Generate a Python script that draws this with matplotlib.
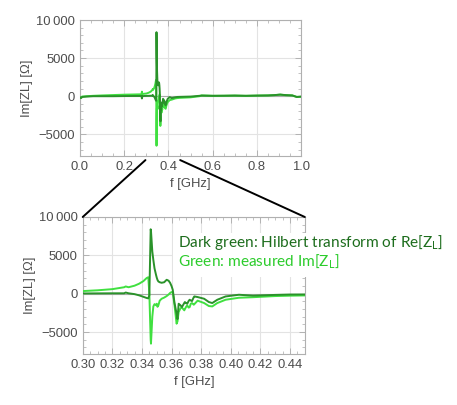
import matplotlib.pyplot as plt
from matplotlib.patches import ConnectionPatch, Rectangle
from matplotlib.ticker import MultipleLocator

# frequency points (GHz), shared by both curves
freq = [0.000, 0.005, 0.010, 0.030, 0.060, 0.100, 0.150, 0.200, 0.250, 0.278,
        0.280, 0.282, 0.290, 0.300, 0.310, 0.320, 0.328, 0.329, 0.331, 0.335,
        0.338, 0.341, 0.3432, 0.3443, 0.3450, 0.3459, 0.3461, 0.3470, 0.3477,
        0.3485, 0.3495, 0.3500, 0.3505, 0.3511, 0.3520, 0.3533, 0.3550, 0.3567,
        0.3580, 0.3590, 0.3600, 0.3608, 0.3620, 0.3634, 0.3640, 0.3648, 0.3660,
        0.3670, 0.3686, 0.3690, 0.3700, 0.3706, 0.3715, 0.3722, 0.3730, 0.3738,
        0.3750, 0.3754, 0.3776, 0.3820, 0.3852, 0.3875, 0.3909, 0.3965, 0.4055,
        0.4150, 0.4300, 0.4400, 0.4500, 0.5000, 0.5400, 0.5500, 0.6000, 0.6500,
        0.7000, 0.7500, 0.8000, 0.8500, 0.8800, 0.9050, 0.9300, 0.9600, 0.9800,
        1.0000]

# dark green: Hilbert transform of Re[ZL]
hilbert_im = [-150, -250, -100, -50, 0, 0, 0, 20, 30, 30,
              -300, 0, 30, 40, 50, 60, 60, 160, 60, -50,
              -200, -400, -550, -600, -200, 8400, 8200, 5500, 4400,
              3300, 2470, 2100, 1800, 1600, 1500, 1430, 1500, 1820,
              1700, 1430, 1000, 520, -1200, -2600, -3300, -1300, -1500,
              -1730, -1200, -1080, -1250, -1300, -950, -780, -880, -950,
              -450, -350, -430, -650, -1080, -1210, -780, -350, -130,
              -250, -150, -100, -90, -50, 50, 80, 50, 60,
              80, 50, 80, 100, 150, 200, 150, 100, -100,
              -50]

# green: measured Im[ZL]
measured_im = [-200, -150, -50, 0, 50, 100, 150, 200, 230, 250,
               600, 280, 320, 350, 450, 600, 850, 950, 850, 1050,
               1300, 1650, 2050, 2150, 0, -6000, -6500, -3000, -1650,
               -1350, -1500, -1300, -1700, -1500, -900, -650, -500, -300,
               -100, 100, 220, 200, -1500, -3900, -3600, -2380, -1900,
               -1800, -2160, -2000, -1650, -1520, -1800, -1750, -1300, -1210,
               -1430, -1350, -900, -1210, -1600, -1650, -1210, -780, -520,
               -450, -300, -250, -220, -150, 0, 100, 50, 60,
               80, 50, 80, 100, 130, 220, 120, 100, -100,
               -80]

x_zoom = (0.30, 0.45)
y_range = (-7850, 10000)
y_ticks = [-5000, 0, 5000, 10000]
y_tick_labels = ['\u22125000', '0', '5000', '10\u2009000']

dark_col = '#2a922a'
light_col = '#40e040'
grey = '#4d4d4d'

plt.rcParams['font.family'] = ['Liberation Sans', 'DejaVu Sans']

fig = plt.figure(figsize=(4.57, 4.05), dpi=100)
ax1 = fig.add_axes([0.175, 0.6148, 0.484, 0.3358])
ax2 = fig.add_axes([0.181, 0.1259, 0.486, 0.3383])


def style(ax, xmaj, xmin, xfmt):
  ax.plot(freq, measured_im, color=light_col, lw=1.4, zorder=3)
  ax.plot(freq, hilbert_im, color=dark_col, lw=1.4, zorder=3)
  ax.axhline(0, color='#aaaaaa', lw=0.8, zorder=2)
  ax.set_ylim(*y_range)
  ax.set_yticks(y_ticks)
  ax.set_yticklabels(y_tick_labels)
  ax.yaxis.set_minor_locator(MultipleLocator(1000))
  ax.xaxis.set_major_locator(MultipleLocator(xmaj))
  ax.xaxis.set_minor_locator(MultipleLocator(xmin))
  ax.xaxis.set_major_formatter(xfmt)
  ax.grid(True, which='major', color='#e3e3e3', lw=0.8, zorder=0)
  ax.tick_params(which='both', direction='in', top=True, right=True,
                 colors='#aaaaaa', labelcolor=grey, labelsize=9.4)
  ax.tick_params(which='major', length=4, width=0.6)
  ax.tick_params(which='minor', length=2, width=0.5)
  for sp in ax.spines.values():
    sp.set_color('#b0b0b0')
    sp.set_linewidth(0.8)
  ax.set_xlabel('f [GHz]', color=grey, fontsize=9.4, labelpad=4)
  ax.set_ylabel('Im[ZL] [\u03a9]', color=grey, fontsize=9.4, labelpad=2)


style(ax1, 0.2, 0.05, '{x:.1f}')
ax1.set_xlim(0, 1)
style(ax2, 0.02, 0.005, '{x:.2f}')
ax2.set_xlim(*x_zoom)

# zoom lines from the top axis down to the lower panel corners
for xa, xb in ((x_zoom[0], 0), (x_zoom[1], 1)):
  con = ConnectionPatch(xyA=(xa - 0.004 if xb == 0 else xa + 0.003, -0.03),
                        coordsA=ax1.get_xaxis_transform(),
                        xyB=(xb, 1), coordsB=ax2.transAxes,
                        color='black', lw=1.4)
  fig.add_artist(con)

# white box with the two coloured notes
fig.add_artist(Rectangle((173 / 457, 1 - 277 / 405), 280 / 457, 44 / 405,
                         transform=fig.transFigure, facecolor='white',
                         edgecolor='none', zorder=5))
fig.text(178 / 457, 1 - 243 / 405,
         r'Dark green: Hilbert transform of Re[Z$_\mathregular{L}$]',
         color='#1d6d1d', fontsize=11.1, family='Lato', va='center', zorder=6)
fig.text(178 / 457, 1 - 262 / 405,
         r'Green: measured Im[Z$_\mathregular{L}$]',
         color='#2ccc2c', fontsize=11.1, family='Lato', va='center', zorder=6)

plt.savefig('out.png', dpi=100)
